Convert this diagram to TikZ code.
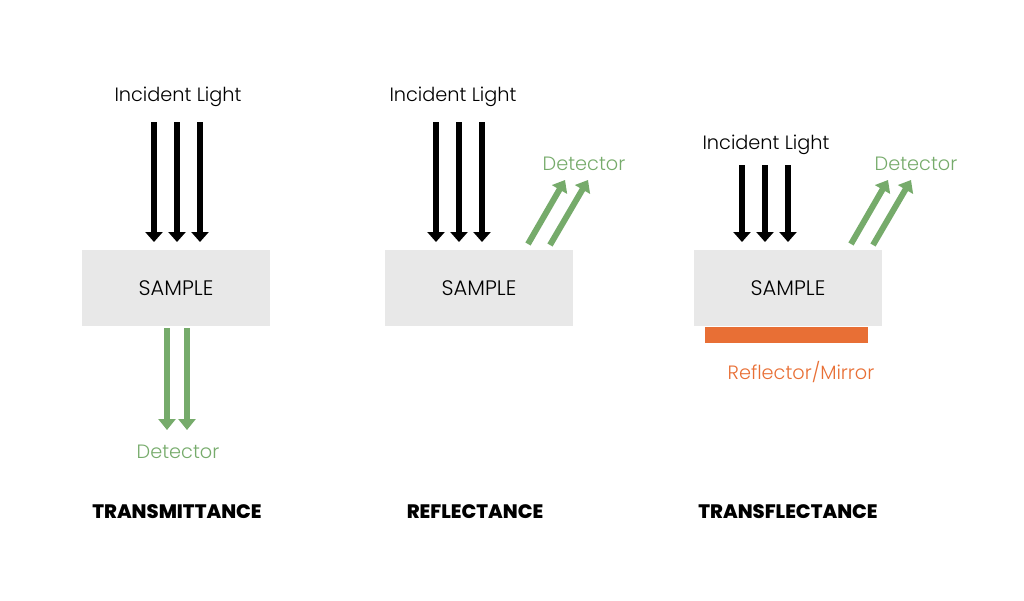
\documentclass[tikz,border=0pt]{standalone}
\usepackage{fontspec}
\setmainfont{Poppins}
\newfontfamily\lightfont{Poppins Light}
\newfontfamily\heavyfont{Poppins ExtraBold}
\usetikzlibrary{arrows.meta}
\definecolor{boxgray}{HTML}{E8E8E8}
\definecolor{ggreen}{HTML}{76AB6B}
\definecolor{orng}{HTML}{E86F35}
\tikzset{
  lbl/.style={font=\lightfont\fontsize{19.3}{19.3}\selectfont, inner sep=0pt},
  title/.style={font=\heavyfont\fontsize{19.5}{19.5}\selectfont, inner sep=0pt},
  samplebox/.style={fill=boxgray, minimum width=188pt, minimum height=76pt, inner sep=0pt, font=\lightfont\fontsize{21}{21}\selectfont},
  blackarrow/.style={line width=6pt, -{Triangle[width=17pt,length=10pt]}},
  greenarrow/.style={ggreen, line width=6pt, -{Triangle[width=17pt,length=11pt]}},
}
\begin{document}
\begin{tikzpicture}[x=1pt,y=-1pt]
\useasboundingbox (0,0) rectangle (1024,600);
% Panel 1
\node[lbl] (il1) at (178,97) {Incident Light};
\foreach \i/\x in {a/154,b/177,c/200}{
  \coordinate (t1\i) at (\x,122); \coordinate (h1\i) at (\x,242);
  \draw[blackarrow] (t1\i) -- (h1\i);
}
\node[samplebox] (s1) at (176,288) {SAMPLE};
\foreach \i/\x in {a/167,b/187}{
  \coordinate (g1\i) at (\x,328); \coordinate (d1\i) at (\x,430);
  \draw[greenarrow] (g1\i) -- (d1\i);
}
\node[lbl, text=ggreen] (det1) at (178,452) {Detector};
\node[title] (T1) at (177,512) {TRANSMITTANCE};
% Panel 2
\node[lbl] (il2) at (453,97) {Incident Light};
\foreach \i/\x in {a/436,b/459,c/482}{
  \coordinate (t2\i) at (\x,122); \coordinate (h2\i) at (\x,242);
  \draw[blackarrow] (t2\i) -- (h2\i);
}
\node[samplebox] (s2) at (479,288) {SAMPLE};
\coordinate (g2a) at (528,244); \coordinate (d2a) at (565,180);
\coordinate (g2b) at (550,245); \coordinate (d2b) at (588,180);
\draw[greenarrow] (g2a) -- (d2a);
\draw[greenarrow] (g2b) -- (d2b);
\node[lbl, text=ggreen] (det2) at (584,164) {Detector};
\node[title] (T2) at (475,512) {REFLECTANCE};
% Panel 3
\node[lbl] (il3) at (766,145) {Incident Light};
\foreach \i/\x in {a/742,b/765,c/788}{
  \coordinate (t3\i) at (\x,165); \coordinate (h3\i) at (\x,242);
  \draw[blackarrow] (t3\i) -- (h3\i);
}
\node[samplebox] (s3) at (788,288) {SAMPLE};
\coordinate (g3a) at (851,244); \coordinate (d3a) at (888,180);
\coordinate (g3b) at (873,245); \coordinate (d3b) at (911,180);
\draw[greenarrow] (g3a) -- (d3a);
\draw[greenarrow] (g3b) -- (d3b);
\node[lbl, text=ggreen] (det3) at (916,164) {Detector};
\node[fill=orng, minimum width=163pt, minimum height=16pt, inner sep=0pt] (mir) at (786.5,335) {};
\node[lbl, text=orng] (rm) at (801,372) {Reflector/Mirror};
\node[title] (T3) at (788,512) {TRANSFLECTANCE};
\end{tikzpicture}
\end{document}
